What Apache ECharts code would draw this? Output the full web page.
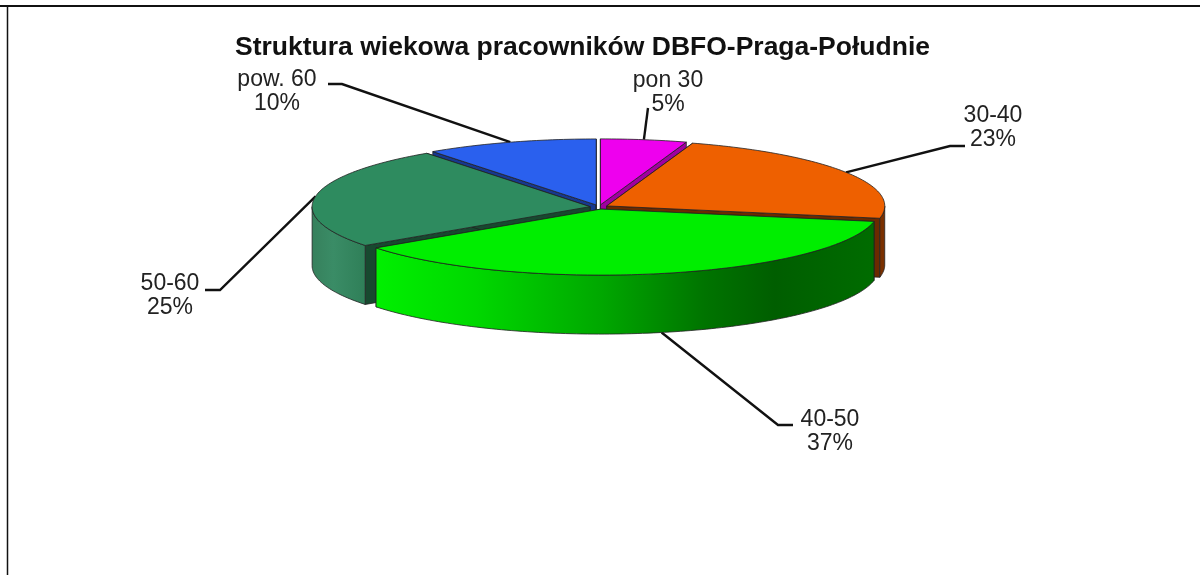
<!DOCTYPE html>
<html><head><meta charset="utf-8">
<style>html,body{margin:0;padding:0;background:#fff}#c{width:1200px;height:575px}</style>
<script src="https://cdn.jsdelivr.net/npm/echarts@6/dist/echarts.min.js"></script>
</head><body><div id="c"></div>
<script>
var categories = ['pon 30', '30-40', '40-50', '50-60', 'pow. 60'];
var shares = [5, 23, 37, 25, 10];
var titleText = 'Struktura wiekowa pracowników DBFO-Praga-Południe';

var topColors = ['#ee00ee', '#ee6000', '#00ee00', '#2e8b5f', '#2a60ee'];
var cutColors = ['#a000a0', '#6b2a00', '#006000', '#17492f', '#17388f'];
var wallStops = [
  [[0, '#c000c0'], [1, '#800080']],
  [[0, '#7a3000'], [1, '#7a3000']],
  [[0, '#00f000'], [0.2, '#00d800'], [0.45, '#00a800'], [0.66, '#007400'], [0.8, '#005e00'], [1, '#006c00']],
  [[0, '#36805c'], [0.4, '#3a8c66'], [1, '#2f7f58']],
  [[0, '#1a3a90'], [1, '#1a3a90']]
];
var drawOrder = [1, 2, 4, 3, 0]; // painter rank per slice (back to front)
var labelLayout = [
  {elbow: [[648, 108]], x: 668, y: 93},
  {elbow: [[950, 146], [965, 146]], x: 993, y: 128},
  {elbow: [[778, 425], [793, 425]], x: 830, y: 432},
  {elbow: [[220, 290], [205, 290]], x: 170, y: 296},
  {elbow: [[342, 84], [328, 84]], x: 277, y: 92}
];

var CX = 599, CY = 207, RX = 278, RY = 66, DEPTH = 59, EXPLODE = 9;
var total = shares.reduce(function (a, b) { return a + b; }, 0);
var starts = [];
shares.reduce(function (acc, v, i) { starts[i] = acc; return acc + v; }, 0);
function rad(p) { return p / total * 2 * Math.PI; }
function arc(tip, a0, a1, dy) {
  var pts = [], n = Math.max(2, Math.ceil((a1 - a0) / 0.02));
  for (var i = 0; i <= n; i++) {
    var a = a0 + (a1 - a0) * i / n;
    pts.push([tip[0] + RX * Math.sin(a), tip[1] - RY * Math.cos(a) + dy]);
  }
  return pts;
}
function poly(points, fill, z2) {
  return {type: 'polygon', z2: z2, shape: {points: points},
    style: {fill: fill, stroke: '#222', lineWidth: 0.8}};
}
function renderItem(params, api) {
  var i = params.dataIndex, value = api.value(0);
  var a0 = rad(starts[i]), a1 = a0 + rad(value), mid = (a0 + a1) / 2;
  var tip = [CX + EXPLODE * Math.sin(mid), CY - EXPLODE * RY / RX * Math.cos(mid)];
  var rank = drawOrder[i] * 10, kids = [];
  [a0, a1].forEach(function (a) {
    var r = [tip[0] + RX * Math.sin(a), tip[1] - RY * Math.cos(a)];
    kids.push(poly([tip, r, [r[0], r[1] + DEPTH], [tip[0], tip[1] + DEPTH]], cutColors[i], rank));
  });
  var w0 = Math.max(a0, Math.PI / 2), w1 = Math.min(a1, 1.5 * Math.PI);
  if (w1 > w0) {
    var front = arc(tip, w0, w1, 0), back = arc(tip, w0, w1, DEPTH).reverse();
    var stops = wallStops[i].map(function (s) { return {offset: s[0], color: s[1]}; });
    kids.push(poly(front.concat(back), {type: 'linear', x: 0, y: 0, x2: 1, y2: 0, colorStops: stops}, rank + 1));
  }
  kids.push(poly([tip].concat(arc(tip, a0, a1, 0)), topColors[i], rank + 2));
  var L = labelLayout[i];
  var start = mid > Math.PI / 2 && mid < 1.5 * Math.PI ? DEPTH : 0;
  var anchor = [tip[0] + RX * Math.sin(mid), tip[1] - RY * Math.cos(mid) + start];
  kids.push({type: 'polyline', z2: 1, shape: {points: [anchor].concat(L.elbow)},
    style: {fill: null, stroke: '#111', lineWidth: 2.4}});
  kids.push({type: 'text', z2: 100, style: {
    x: L.x, y: L.y, text: categories[i] + '\n' + value + '%',
    align: 'center', verticalAlign: 'middle', fill: '#222', lineHeight: 24,
    font: '23px "Liberation Sans", Arial, sans-serif'}});
  return {type: 'group', children: kids};
}
var chart = echarts.init(document.getElementById('c'), null, {renderer: 'canvas'});
chart.setOption({
  animation: false,
  backgroundColor: '#fff',
  title: {text: titleText, left: 235, top: 34, padding: 0,
    textStyle: {fontFamily: '"Liberation Sans", Arial, sans-serif', fontWeight: 'bold', fontSize: 26.5, color: '#111'}},
  graphic: [
    {type: 'line', shape: {x1: 0, y1: 6, x2: 1200, y2: 6}, style: {stroke: '#111', lineWidth: 2}},
    {type: 'line', shape: {x1: 7.5, y1: 5, x2: 7.5, y2: 575}, style: {stroke: '#111', lineWidth: 1.5}}
  ],
  series: [{type: 'custom', coordinateSystem: 'none', renderItem: renderItem,
    data: categories.map(function (c, i) { return {name: c, value: [shares[i]]}; })}]
});
</script></body></html>
